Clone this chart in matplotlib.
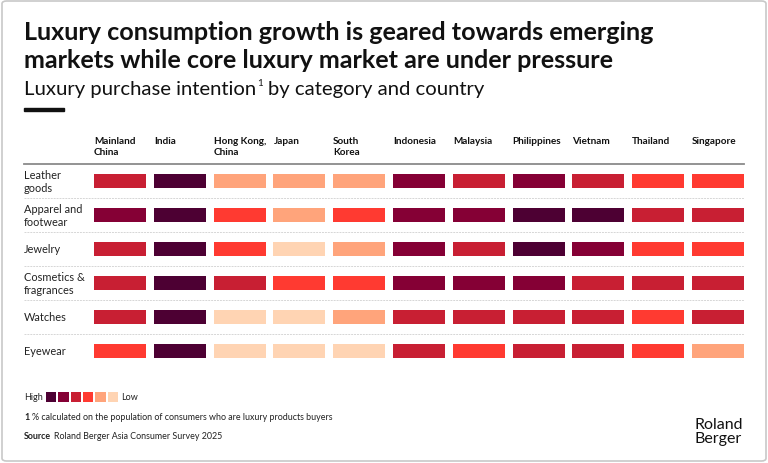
import matplotlib
matplotlib.use("Agg")
import matplotlib.pyplot as plt
from matplotlib.patches import FancyBboxPatch

# --- data ---
countries = ["Mainland\nChina", "India", "Hong Kong,\nChina", "Japan", "South\nKorea",
             "Indonesia", "Malaysia", "Philippines", "Vietnam", "Thailand", "Singapore"]
categories = ["Leather\ngoods", "Apparel and\nfootwear", "Jewelry",
              "Cosmetics &\nfragrances", "Watches", "Eyewear"]
# intention level: 5 = high ... 0 = low
leather = [3, 5, 1, 1, 1, 4, 3, 4, 3, 2, 2]
apparel = [4, 5, 2, 1, 2, 4, 4, 5, 5, 3, 3]
jewelry = [3, 5, 2, 0, 1, 4, 3, 5, 4, 2, 2]
cosmetics = [3, 5, 3, 2, 2, 4, 4, 4, 3, 3, 3]
watches = [3, 5, 0, 0, 1, 3, 3, 3, 3, 2, 3]
eyewear = [2, 5, 0, 0, 0, 3, 2, 3, 3, 2, 1]
levels = [leather, apparel, jewelry, cosmetics, watches, eyewear]
legend_levels = [5, 4, 3, 2, 1, 0]

palette = {5: "#4d0033", 4: "#850035", 3: "#c81f33", 2: "#ff3a31",
           1: "#ffa47b", 0: "#ffd4b3"}

W, H = 768, 464
fig = plt.figure(figsize=(W / 100, H / 100), dpi=100)
plt.rcParams['font.family'] = ['Lato', 'DejaVu Sans']


def px(x, y):
    return x / W, 1 - y / H


# border
fig.patches.append(FancyBboxPatch((2 / W, 2 / H), 1 - 4 / W, 1 - 4 / H,
                                  boxstyle="round,pad=0,rounding_size=0.006",
                                  transform=fig.transFigure, fill=False,
                                  edgecolor="#c8c8c8", linewidth=1.2))

# titles
fig.text(*px(24, 32), "Luxury consumption growth is geared towards emerging",
         fontsize=18.1, fontweight="bold", color="#111111", va="center")
fig.text(*px(24, 61), "markets while core luxury market are under pressure",
         fontsize=18.1, fontweight="bold", color="#111111", va="center")
sub = fig.text(*px(24, 89), "Luxury purchase intention", fontsize=14.6,
               color="#111111", va="center")
fig.canvas.draw()
bb = sub.get_window_extent()
sup = fig.text(bb.x1 / W + 1 / W, 1 - 84 / H, "1", fontsize=7, color="#111111", va="center")
fig.canvas.draw()
bb2 = sup.get_window_extent()
fig.text(bb2.x1 / W + 5 / W, 1 - 89 / H, "by category and country", fontsize=14.6,
         color="#111111", va="center")
fig.patches.append(plt.Rectangle(px(24, 112), 40 / W, 3 / H, transform=fig.transFigure,
                                 color="#111111"))

# --- grid ---
col0, colw = 120, 59.8
rowc0, rowh = 182, 34
left_px, right_px = 24, 748
top_px = rowc0 - rowh / 2
bot_px = rowc0 + rowh * 5.5
ax = fig.add_axes([left_px / W, 1 - bot_px / H, (right_px - left_px) / W, (bot_px - top_px) / H])
ax.set_xlim((left_px - col0) / colw, (right_px - col0) / colw)
ax.set_ylim(5.5, -0.5)
ax.axis("off")

cell_w = 52 / colw
cell_h = 14 / rowh
for i, row in enumerate(levels):
    ax.bar(range(len(countries)), cell_h, bottom=i - cell_h / 2, width=cell_w,
           color=[palette[v] for v in row], linewidth=0)
    ax.text(ax.get_xlim()[0], i, categories[i], fontsize=7.9, color="#222222",
            va="center", ha="left", linespacing=1.25)
    if i < len(levels) - 1:
        ax.plot([ax.get_xlim()[0], 10 + cell_w / 2], [i + 0.5, i + 0.5],
                color="#d6d6d6", linewidth=0.7, linestyle=(0, (2, 1)))

ax.plot([ax.get_xlim()[0], 10 + cell_w / 2], [-0.5, -0.5], color="#8a8a8a",
        linewidth=1.3, clip_on=False)
head_y = (137 - rowc0) / rowh
for j, c in enumerate(countries):
    ax.text(j - cell_w / 2, head_y, c, fontsize=7.2, fontweight="bold", color="#111111",
            ha="left", va="top", linespacing=1.35, clip_on=False)

# --- legend ---
fig.text(*px(24, 398), "High", fontsize=6.5, color="#222222", va="center")
lax = fig.add_axes([46 / W, 1 - 403 / H, 72 / W, 10 / H])
lax.bar(range(len(legend_levels)), 1, width=0.82,
        color=[palette[v] for v in legend_levels], linewidth=0)
lax.set_xlim(-0.41, len(legend_levels) - 0.59)
lax.set_ylim(0, 1)
lax.axis("off")
fig.text(*px(121, 398), "Low", fontsize=6.5, color="#222222", va="center")

# footnotes
fig.text(*px(24, 418), "1", fontsize=6.4, fontweight="bold", color="#222222", va="center")
fig.text(*px(32, 418), "% calculated on the population of consumers who are luxury products buyers",
         fontsize=6.4, color="#222222", va="center")
fig.text(*px(24, 437), "Source", fontsize=6.4, fontweight="bold", color="#222222", va="center")
fig.text(*px(54, 437), "Roland Berger Asia Consumer Survey 2025",
         fontsize=6.4, color="#222222", va="center")

# logo
fig.text(*px(694, 432), "Roland\nBerger", fontsize=11.5, color="#111111", va="center",
         ha="left", linespacing=1.0)

fig.savefig("out.png", dpi=100)
